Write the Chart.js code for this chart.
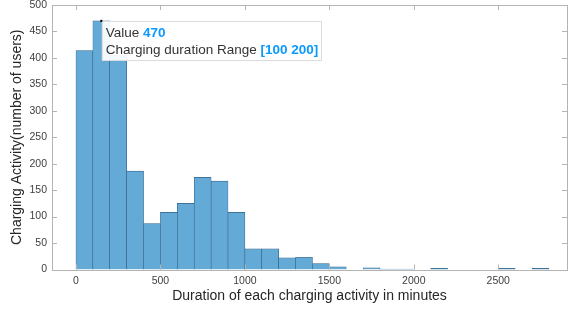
<!DOCTYPE html>
<html>
<head>
<meta charset="utf-8">
<script src="https://cdn.jsdelivr.net/npm/chart.js@4.4.1/dist/chart.umd.min.js"></script>
<style>
  html, body { margin: 0; padding: 0; background: #fff; }
  #wrap { width: 568px; height: 311px; }
</style>
</head>
<body>
<div id="wrap"><canvas id="hist" width="568" height="311"></canvas></div>
<script>
// histogram bins (minutes) and counts
const binEdges = [0, 100, 200, 300, 400, 500, 600, 700, 800, 900, 1000, 1100, 1200, 1300, 1400,
    1500, 1600, 1700, 1800, 1900, 2000, 2100, 2200, 2300, 2400, 2500, 2600, 2700, 2800];
const counts = [414, 470, 405, 186, 87, 108, 125, 174, 167, 108, 39, 39, 22, 23, 11,
    5, 0, 3, 1, 1, 0, 2, 0, 0, 0, 2, 0, 2];
const xTicks = [0, 500, 1000, 1500, 2000, 2500];
const yTicks = [0, 50, 100, 150, 200, 250, 300, 350, 400, 450, 500];
const tipBin = 1;  // the data tip sits on the [100 200] bar

const axisGrey = '#b4b4b4';
const labelGrey = '#404040';
const fontFam = '"Liberation Sans", Arial, sans-serif';

const points = counts.map((c, i) => ({ x: (binEdges[i] + binEdges[i + 1]) / 2, y: c }));

// box + inward ticks, like matlab axes
const boxPlugin = {
    id: 'box',
    afterDatasetsDraw(chart) {
        const { ctx, chartArea: a, scales } = chart;
        ctx.save();
        ctx.strokeStyle = axisGrey;
        ctx.lineWidth = 1;
        ctx.beginPath();
        xTicks.forEach(v => {
            const px = Math.round(scales.x.getPixelForValue(v)) + 0.5;
            ctx.moveTo(px, a.bottom); ctx.lineTo(px, a.bottom - 5);
            ctx.moveTo(px, a.top); ctx.lineTo(px, a.top + 5);
        });
        yTicks.forEach(v => {
            const py = Math.round(scales.y.getPixelForValue(v)) + 0.5;
            ctx.moveTo(a.left, py); ctx.lineTo(a.left + 5, py);
            ctx.moveTo(a.right, py); ctx.lineTo(a.right - 5, py);
        });
        ctx.stroke();
        ctx.strokeRect(Math.round(a.left) + 0.5, Math.round(a.top) + 0.5,
            Math.round(a.right - a.left), Math.round(a.bottom - a.top));
        ctx.restore();
    }
};

// data tip box
const tipPlugin = {
    id: 'datatip',
    afterDraw(chart) {
        const { ctx, scales } = chart;
        const px = scales.x.getPixelForValue(points[tipBin].x);
        const py = scales.y.getPixelForValue(counts[tipBin]);
        const lines = [
            ['Value ', String(counts[tipBin])],
            ['Charging duration Range ', '[' + binEdges[tipBin] + ' ' + binEdges[tipBin + 1] + ']']
        ];
        ctx.save();
        const normal = '13.5px ' + fontFam;
        const bold = 'bold 13.5px ' + fontFam;
        let w = 0;
        lines.forEach(l => {
            ctx.font = normal; let t = ctx.measureText(l[0]).width;
            ctx.font = bold; t += ctx.measureText(l[1]).width;
            w = Math.max(w, t);
        });
        const bx = px + 0.5, by = py + 0.5, bw = w + 7, bh = 39;
        ctx.fillStyle = 'rgba(255,255,255,0.93)';
        ctx.fillRect(bx, by, bw, bh);
        ctx.strokeStyle = '#dcdcdc';
        ctx.lineWidth = 1;
        ctx.strokeRect(Math.round(bx) + 0.5, Math.round(by) + 0.5, Math.round(bw), bh);
        ctx.textBaseline = 'middle';
        lines.forEach((l, i) => {
            const ty = by + 12 + i * 17;
            ctx.font = normal; ctx.fillStyle = '#333';
            ctx.fillText(l[0], bx + 4, ty);
            const lw = ctx.measureText(l[0]).width;
            ctx.font = bold; ctx.fillStyle = '#0a99ff';
            ctx.fillText(l[1], bx + 4 + lw, ty);
        });
        ctx.fillStyle = '#000';
        ctx.fillRect(px - 1, py - 1, 2, 2);
        ctx.restore();
    }
};

new Chart(document.getElementById('hist'), {
    type: 'bar',
    data: {
        datasets: [{
            data: points,
            backgroundColor: 'rgb(100,170,215)',
            borderColor: 'rgb(52,96,132)',
            borderWidth: { top: 0.6, left: 0.6, right: 0.6, bottom: 0 },
            borderSkipped: false,
            barPercentage: 1,
            categoryPercentage: 1
        }]
    },
    options: {
        responsive: false,
        animation: false,
        events: [],
        layout: { padding: { top: 5, right: 1, left: 0, bottom: 0 } },
        plugins: { legend: { display: false }, tooltip: { enabled: false } },
        scales: {
            x: {
                type: 'linear',
                offset: false,
                min: -142,
                max: 2907,
                afterBuildTicks: s => { s.ticks = xTicks.map(v => ({ value: v })); },
                afterFit: s => { s.height = 41.5; s.paddingLeft = 0; s.paddingRight = 0; },
                grid: { display: false, drawTicks: false, offset: false },
                border: { display: false },
                ticks: {
                    font: { size: 10.5, family: fontFam }, color: labelGrey, padding: 5, maxRotation: 0,
                    callback: v => String(v)
                },
                title: {
                    display: true,
                    text: 'Duration of each charging activity in minutes',
                    font: { size: 14, family: fontFam },
                    color: '#262626',
                    padding: { top: 0, bottom: 6 }
                }
            },
            y: {
                min: 0,
                max: 500,
                afterBuildTicks: s => { s.ticks = yTicks.map(v => ({ value: v })); },
                afterFit: s => { s.width = 52; s.paddingTop = 0; s.paddingBottom = 0; },
                grid: { display: false, drawTicks: false },
                border: { display: false },
                ticks: {
                    font: { size: 10.5, family: fontFam }, color: labelGrey, padding: 5,
                    callback: v => String(v)
                },
                title: {
                    display: true,
                    text: 'Charging Activity(number of users)',
                    font: { size: 14, family: fontFam },
                    color: '#262626',
                    padding: { top: 8.6, bottom: 0 }
                }
            }
        }
    },
    plugins: [boxPlugin, tipPlugin]
});
</script>
</body>
</html>
